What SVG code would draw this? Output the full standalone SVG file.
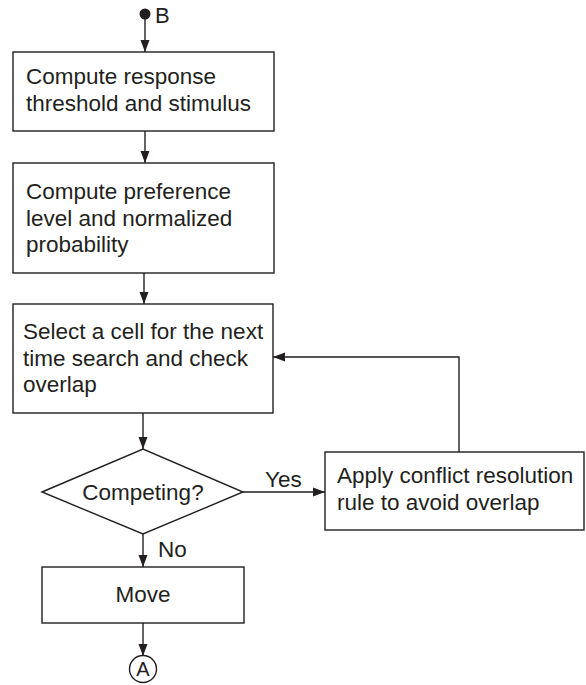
<svg xmlns="http://www.w3.org/2000/svg" width="586" height="685" viewBox="0 0 586 685">
<defs>
<marker id="arr" markerUnits="userSpaceOnUse" markerWidth="13" markerHeight="11" refX="12" refY="5.5" orient="auto">
<path d="M0,1 L12,5.5 L0,10 Z" fill="#231f20"/>
</marker>
<style>
.box{fill:#fff;stroke:#231f20;stroke-width:1.4}
.ln{fill:none;stroke:#231f20;stroke-width:1.4}
.t{font-family:"Liberation Sans",Arial,sans-serif;font-size:22.5px;fill:#231f20}
.c{text-anchor:middle}
</style>
</defs>
<rect width="586" height="685" fill="#fff"/>
<g id="connectors">
<line class="ln" x1="145" y1="16" x2="145" y2="52" marker-end="url(#arr)"/>
<line class="ln" x1="145" y1="131" x2="145" y2="163" marker-end="url(#arr)"/>
<line class="ln" x1="144" y1="273" x2="144" y2="304" marker-end="url(#arr)"/>
<line class="ln" x1="143" y1="413" x2="143" y2="449" marker-end="url(#arr)"/>
<line class="ln" x1="243" y1="492" x2="325" y2="492" marker-end="url(#arr)"/>
<line class="ln" x1="143" y1="534" x2="143" y2="567" marker-end="url(#arr)"/>
<line class="ln" x1="143" y1="623" x2="143" y2="656" marker-end="url(#arr)"/>
<polyline class="ln" points="459,452 459,357 273,357" marker-end="url(#arr)"/>
<text class="t" x="265" y="487">Yes</text>
<text class="t" x="158" y="557">No</text>
</g>
<g id="start-B">
<circle cx="145" cy="14" r="5.5" fill="#231f20"/>
<text class="t" x="155" y="23" style="font-size:22px">B</text>
</g>
<g id="node-threshold">
<rect class="box" x="13" y="52" width="261" height="79"/>
<text class="t" x="26" y="84">Compute response</text>
<text class="t" x="26" y="111">threshold and stimulus</text>
</g>
<g id="node-preference">
<rect class="box" x="13" y="163" width="261" height="110"/>
<text class="t" x="26" y="199">Compute preference</text>
<text class="t" x="26" y="226">level and normalized</text>
<text class="t" x="26" y="252">probability</text>
</g>
<g id="node-select">
<rect class="box" x="13" y="304" width="260" height="109"/>
<text class="t" x="23" y="339">Select a cell for the next</text>
<text class="t" x="23" y="366">time search and check</text>
<text class="t" x="23" y="392">overlap</text>
</g>
<g id="node-competing">
<polygon class="box" points="42,492 143,449 243,492 143,534"/>
<text class="t c" x="143" y="500">Competing?</text>
</g>
<g id="node-conflict">
<rect class="box" x="325" y="452" width="259" height="78"/>
<text class="t" x="337" y="483">Apply conflict resolution</text>
<text class="t" x="337" y="510">rule to avoid overlap</text>
</g>
<g id="node-move">
<rect class="box" x="42" y="567" width="202" height="56"/>
<text class="t c" x="143" y="602">Move</text>
</g>
<g id="end-A">
<circle class="box" cx="143" cy="669" r="13.5"/>
<text class="t c" x="143" y="676" style="font-size:20px">A</text>
</g>
</svg>
